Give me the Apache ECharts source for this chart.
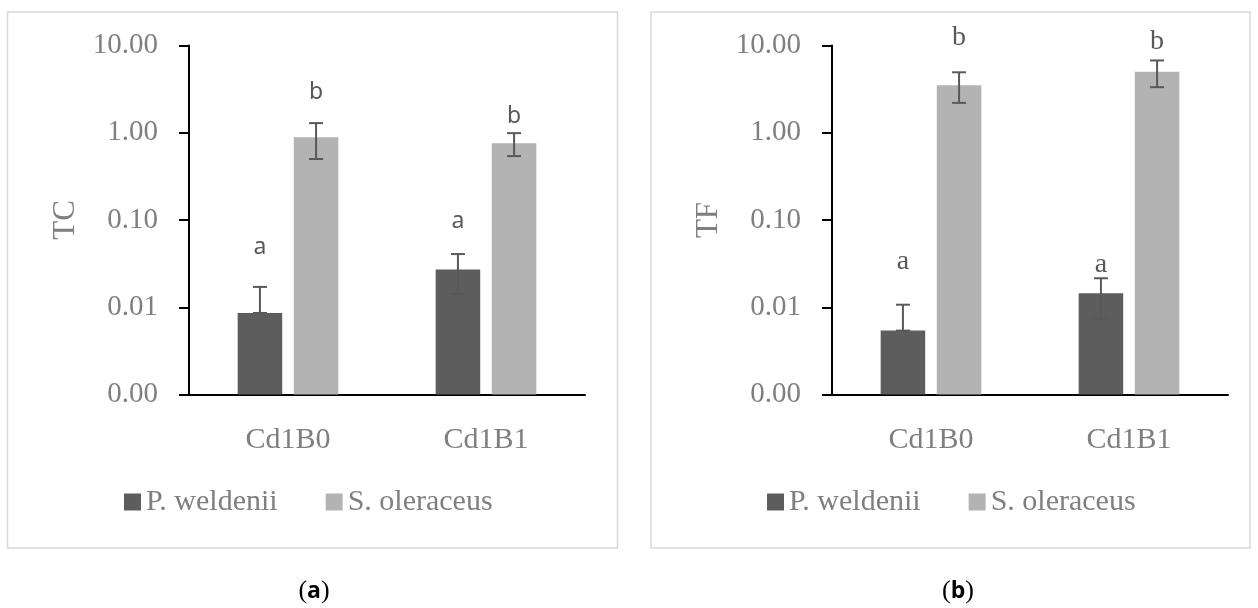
<!DOCTYPE html>
<html>
<head>
<meta charset="utf-8">
<title>TC / TF</title>
<script src="https://cdn.jsdelivr.net/npm/echarts@6/dist/echarts.min.js"></script>
<style>
  html, body { margin: 0; padding: 0; background: #fff; }
  #chart { width: 1258px; height: 608px; }
</style>
</head>
<body>
<div id="chart"></div>
<script>
// data
var categories = ["Cd1B0", "Cd1B1"];
var seriesNames = ["P. weldenii", "S. oleraceus"];

// (a) TC
var tcWeldenii = [0.0086, 0.027];
var tcWeldeniiLow = [0.0086, 0.0142];
var tcWeldeniiHigh = [0.0171, 0.0407];
var tcOleraceus = [0.89, 0.76];
var tcOleraceusLow = [0.50, 0.54];
var tcOleraceusHigh = [1.29, 0.99];
var tcLetters = [["a", "a"], ["b", "b"]];
var tcLetterAt = [[0.049, 0.096], [2.93, 1.55]];

// (b) TF
var tfWeldenii = [0.0054, 0.0145];
var tfWeldeniiLow = [0.0054, 0.0074];
var tfWeldeniiHigh = [0.0107, 0.0215];
var tfOleraceus = [3.5, 5.0];
var tfOleraceusLow = [2.2, 3.33];
var tfOleraceusHigh = [4.93, 6.74];
var tfLetters = [["a", "a"], ["b", "b"]];
var tfLetterAt = [[0.0333, 0.0306], [12.3, 11.2]];

var DARK = "#5d5d5d";
var LIGHT = "#b3b3b3";
var GREY_TEXT = "#7f7f7f";
var BAR_W = 0.225;   // share of the category band
var BAR_GAP = 0.26;  // gap between the two bars, share of bar width
var SERIF = "'Liberation Serif', serif";

var chart = echarts.init(document.getElementById("chart"));

function rows(vals, low, high, letters, at) {
  return vals.map(function (v, i) {
    return [i, v, low[i], high[i], at[i], letters[i]];
  });
}

// error bar + significance letter, shifted onto its bar
function errRenderer(sign, letterFont) {
  return function (params, api) {
    var idx = api.value(0);
    var band = api.size([1, 0])[0];
    var off = sign * band * BAR_W * (1 + BAR_GAP) / 2;
    var lo = api.coord([idx, api.value(2)]);
    var hi = api.coord([idx, api.value(3)]);
    var lt = api.coord([idx, api.value(4)]);
    var x = lo[0] + off;
    var cap = 7;
    var st = { stroke: "#595959", lineWidth: 2 };
    return {
      type: "group",
      children: [
        { type: "line", shape: { x1: x, y1: lo[1], x2: x, y2: hi[1] }, style: st },
        { type: "line", shape: { x1: x - cap, y1: hi[1], x2: x + cap, y2: hi[1] }, style: st },
        { type: "line", shape: { x1: x - cap, y1: lo[1], x2: x + cap, y2: lo[1] }, style: st },
        {
          type: "text", x: x, y: lt[1],
          style: {
            text: api.value(5),
            font: letterFont,
            fill: "#595959",
            align: "center",
            verticalAlign: "middle"
          }
        }
      ]
    };
  };
}

function yAxisOf(gridIndex, name) {
  return {
    type: "log",
    logBase: 10,
    gridIndex: gridIndex,
    min: 0.001,
    max: 10,
    startValue: 0.001,
    name: name,
    nameLocation: "middle",
    nameGap: 108,
    nameTextStyle: { fontFamily: SERIF, fontSize: 31, color: GREY_TEXT },
    axisLine: { show: true, lineStyle: { color: "#000", width: 2 } },
    axisTick: { show: true, length: 10, lineStyle: { color: "#000", width: 2 } },
    minorTick: { show: false },
    splitLine: { show: false },
    axisLabel: {
      margin: 31,
      fontFamily: SERIF,
      fontSize: 29,
      color: GREY_TEXT,
      formatter: function (v) { return v.toFixed(2); }
    }
  };
}

function xAxisOf(gridIndex) {
  return {
    type: "category",
    gridIndex: gridIndex,
    data: categories,
    axisLine: { show: true, lineStyle: { color: "#000", width: 2 } },
    axisTick: { show: false },
    axisLabel: { margin: 31, fontFamily: SERIF, fontSize: 30, color: GREY_TEXT }
  };
}

function legendOf(left) {
  return {
    data: seriesNames,
    left: left,
    top: 487,
    padding: 0,
    icon: "rect",
    itemWidth: 17,
    itemHeight: 17,
    itemGap: 48,
    selectedMode: false,
    textStyle: { fontFamily: SERIF, fontSize: 30, color: GREY_TEXT }
  };
}

function barOf(name, gi, vals, color) {
  return {
    name: name,
    type: "bar",
    xAxisIndex: gi,
    yAxisIndex: gi,
    data: vals,
    barWidth: BAR_W * 100 + "%",
    barGap: BAR_GAP * 100 + "%",
    itemStyle: { color: color },
    emphasis: { disabled: true }
  };
}

function errOf(name, gi, data, sign, font) {
  return {
    name: name,
    type: "custom",
    xAxisIndex: gi,
    yAxisIndex: gi,
    data: data,
    encode: { x: 0, y: 1 },
    renderItem: errRenderer(sign, font),
    z: 5
  };
}

function caption(x, letter) {
  return {
    type: "text", x: x, y: 591,
    style: {
      text: "({b|" + letter + "})",
      font: "26px 'Liberation Serif', serif",
      fill: "#000",
      align: "center",
      verticalAlign: "middle",
      rich: { b: { fontFamily: "'Open Sans', sans-serif", fontWeight: "bold", fontSize: 23 } }
    }
  };
}

var sansLetter = "23px 'Noto Sans', sans-serif";
var serifLetter = "28px 'Liberation Serif', serif";

var option = {
  backgroundColor: "#fff",
  animation: false,
  grid: [
    { left: 189, top: 45.5, width: 396, height: 349 },
    { left: 832, top: 45.5, width: 396, height: 349 }
  ],
  xAxis: [xAxisOf(0), xAxisOf(1)],
  yAxis: [yAxisOf(0, "TC"), yAxisOf(1, "TF")],
  legend: [legendOf(124), legendOf(767)],
  graphic: [
    { type: "rect", shape: { x: 7.5, y: 12, width: 610, height: 536 },
      style: { fill: "none", stroke: "#d9d9d9", lineWidth: 1.5 }, silent: true },
    { type: "rect", shape: { x: 651, y: 12, width: 599, height: 536 },
      style: { fill: "none", stroke: "#d9d9d9", lineWidth: 1.5 }, silent: true },
    caption(314, "a"),
    caption(958, "b")
  ],
  series: [
    barOf(seriesNames[0], 0, tcWeldenii, DARK),
    barOf(seriesNames[1], 0, tcOleraceus, LIGHT),
    errOf("tc-w", 0, rows(tcWeldenii, tcWeldeniiLow, tcWeldeniiHigh, tcLetters[0], tcLetterAt[0]), -1, sansLetter),
    errOf("tc-o", 0, rows(tcOleraceus, tcOleraceusLow, tcOleraceusHigh, tcLetters[1], tcLetterAt[1]), 1, sansLetter),
    barOf(seriesNames[0], 1, tfWeldenii, DARK),
    barOf(seriesNames[1], 1, tfOleraceus, LIGHT),
    errOf("tf-w", 1, rows(tfWeldenii, tfWeldeniiLow, tfWeldeniiHigh, tfLetters[0], tfLetterAt[0]), -1, serifLetter),
    errOf("tf-o", 1, rows(tfOleraceus, tfOleraceusLow, tfOleraceusHigh, tfLetters[1], tfLetterAt[1]), 1, serifLetter)
  ]
};

chart.setOption(option);
</script>
</body>
</html>
